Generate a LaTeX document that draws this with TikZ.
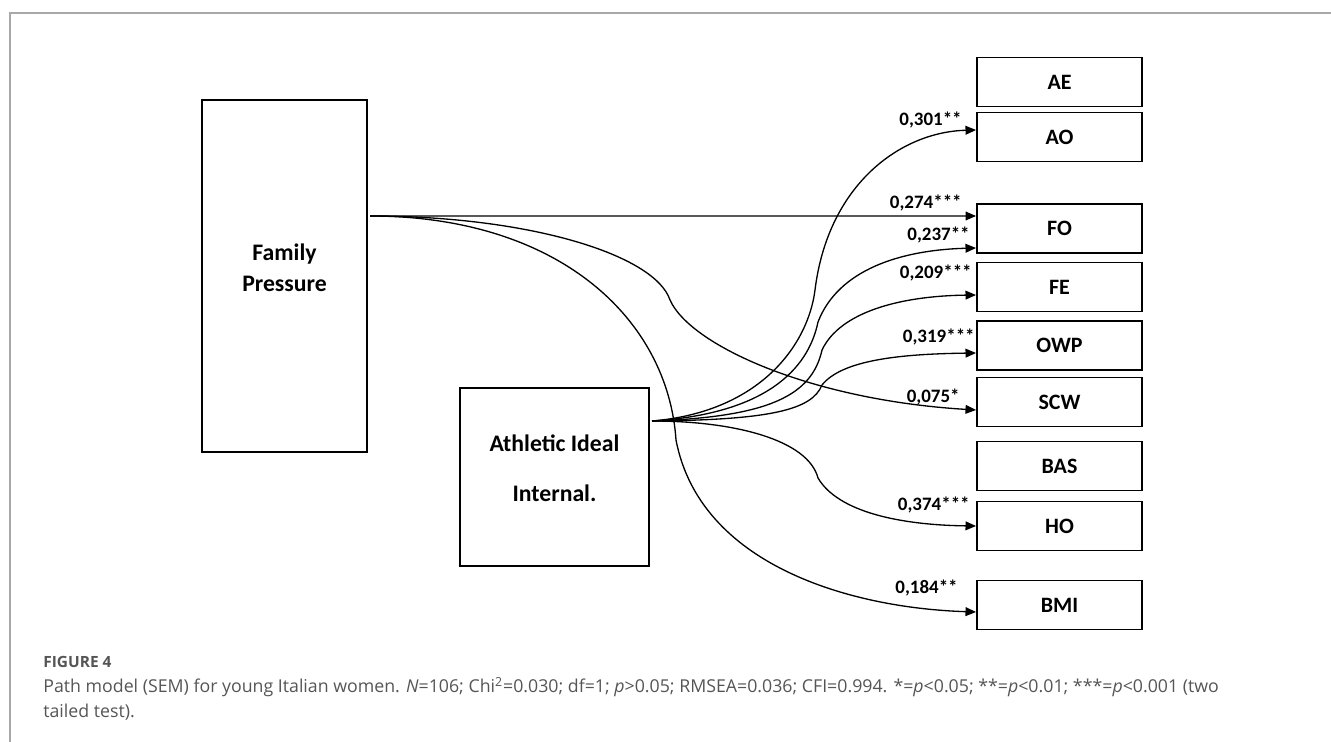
\documentclass[tikz,border=0pt]{standalone}
\usepackage{fontspec}
\setmainfont{Carlito}
\newfontfamily\capfont{Open Sans}
\usepackage{xcolor}
\usetikzlibrary{arrows.meta}

\definecolor{capgrey}{HTML}{555555}
\definecolor{framegrey}{HTML}{A8A8A8}

\begin{document}
\begin{tikzpicture}[
    x=0.02cm, y=-0.02cm,
    var node/.style={draw, line width=1.1pt, minimum width=3.3cm, minimum height=0.98cm, inner sep=0pt, font=\fontsize{12.5}{15}\selectfont\bfseries},
    big node/.style={draw, line width=1.1pt, inner sep=0pt},
    big text/.style={align=center, inner sep=0pt, font=\fontsize{13.5}{17.5}\selectfont\bfseries},
    coef/.style={anchor=base east, inner sep=0pt, font=\fontsize{10.8}{13}\selectfont\bfseries},
    path arrow/.style={line width=0.75pt, -{Triangle[length=6pt,width=5pt]}},
    caption/.style={anchor=base west, inner sep=0pt, text=capgrey, align=left}
]
    \useasboundingbox (0,0) rectangle (1331,742);

    % Frame
    \draw[framegrey, line width=0.8pt] (1331,13) -- (10,13) -- (10,742);

    % Nodes
    \node[big node, minimum width=3.3cm, minimum height=7.04cm,
          label={[big text, yshift=0.16cm]center:Family\\Pressure}] (fp) at (284.5,276) {};
    \node[big node, minimum width=3.78cm, minimum height=3.56cm,
          label={[big text, yshift=0.17cm]center:Athletic Ideal\\[11pt]Internal.}] (ai) at (554.5,477) {};

    \node[var node] (ae)  at (1059.5,82)    {AE};
    \node[var node] (ao)  at (1059.5,137)   {AO};
    \node[var node] (fo)  at (1059.5,228.5) {FO};
    \node[var node] (fe)  at (1059.5,287)   {FE};
    \node[var node] (owp) at (1059.5,345.5) {OWP};
    \node[var node] (scw) at (1059.5,402)   {SCW};
    \node[var node] (bas) at (1059.5,466)   {BAS};
    \node[var node] (ho)  at (1059.5,526)   {HO};
    \node[var node] (bmi) at (1059.5,605)   {BMI};

    \coordinate (fpout) at (370,216);
    \coordinate (aiout) at (652,421);

    % Edges from Family Pressure
    \draw[path arrow] (fpout) -- ([yshift=0.25cm]fo.west);
    \draw[path arrow] (fpout) .. controls (530,216) and (655,255) .. (670,300)
        .. controls (690,345) and (810,400) .. ([yshift=-0.16cm]scw.west);
    \draw[path arrow] (fpout) .. controls (560,216) and (668,320) .. (676,440)
        .. controls (700,565) and (850,608) .. ([yshift=-0.14cm]bmi.west);

    % Edges from Athletic Ideal
    \draw[path arrow] (aiout) .. controls (760,412) and (808,345) .. (815,290)
        .. controls (828,185) and (900,132) .. ([yshift=0.14cm]ao.west);
    \draw[path arrow] (aiout) .. controls (765,414) and (808,370) .. (818,322)
        .. controls (838,270) and (900,250) .. ([yshift=-0.39cm]fo.west);
    \draw[path arrow] (aiout) .. controls (770,417) and (812,395) .. (822,350)
        .. controls (840,312) and (900,296) .. ([yshift=-0.16cm]fe.west);
    \draw[path arrow] (aiout) .. controls (770,420) and (812,410) .. (822,385)
        .. controls (842,360) and (900,354) .. ([yshift=-0.15cm]owp.west);
    \draw[path arrow] (aiout) .. controls (735,421) and (808,440) .. (818,478)
        .. controls (838,512) and (900,525) .. (ho.west);

    % Coefficients
    \node[coef] (c1) at (962,126) {0,301**};
    \node[coef] (c2) at (962,209) {0,274***};
    \node[coef] (c3) at (970,241) {0,237**};
    \node[coef] (c4) at (972,279) {0,209***};
    \node[coef] (c5) at (975,343) {0,319***};
    \node[coef] (c6) at (960,403) {0,075*};
    \node[coef] (c7) at (970,511) {0,374***};
    \node[coef] (c8) at (958,593) {0,184**};

    % Caption
    \node[caption, font=\capfont\fontsize{8.8}{10}\selectfont\bfseries] (fig) at (43,667) {FIGURE 4};
    \node[caption, font=\capfont\fontsize{10.1}{13.8}\selectfont] (cap) at (43,717)
        {Path model (SEM) for young Italian women. \textit{N}=106; Chi\textsuperscript{2}=0.030; df=1; \textit{p}>0.05; RMSEA=0.036; CFI=0.994. *=\textit{p}<0.05; **=\textit{p}<0.01; ***=\textit{p}<0.001 (two\\tailed test).};
\end{tikzpicture}
\end{document}
